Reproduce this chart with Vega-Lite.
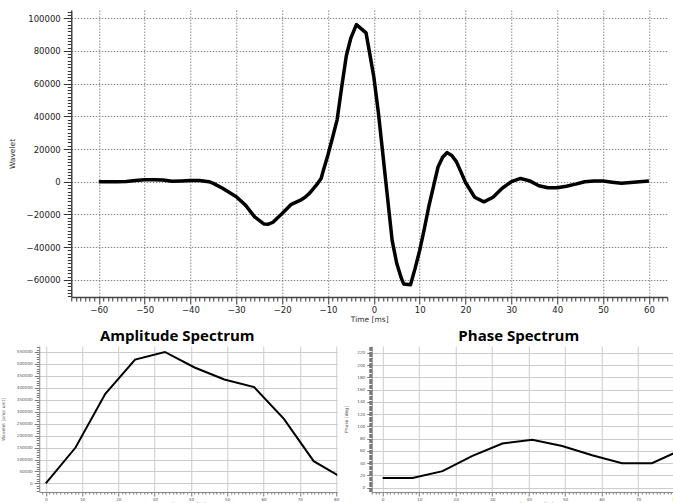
{
  "$schema": "https://vega.github.io/schema/vega-lite/v6.json",
  "padding": {"left": 0, "top": 7, "right": 0, "bottom": 0},
  "background": "white",
  "config": {
    "view": {"stroke": null},
    "font": "DejaVu Sans",
    "axis": {"labelOverlap": false, "labelFlush": false, "domainColor": "#444", "tickColor": "#333", "labelColor": "#222"}
  },
  "datasets": {
    "wavelet": [
      {"time": -60, "wavelet": 0}, {"time": -58, "wavelet": 0}, {"time": -56, "wavelet": 0}, {"time": -54, "wavelet": 200},
      {"time": -52, "wavelet": 700}, {"time": -50, "wavelet": 1200}, {"time": -48, "wavelet": 1200}, {"time": -46, "wavelet": 1000},
      {"time": -44, "wavelet": 300}, {"time": -42, "wavelet": 500}, {"time": -40, "wavelet": 800}, {"time": -38, "wavelet": 800},
      {"time": -36, "wavelet": 0}, {"time": -35, "wavelet": -1000}, {"time": -33, "wavelet": -4000}, {"time": -30, "wavelet": -9200},
      {"time": -28, "wavelet": -14300}, {"time": -26, "wavelet": -21500}, {"time": -24, "wavelet": -25800}, {"time": -23, "wavelet": -26000},
      {"time": -22, "wavelet": -24800}, {"time": -20, "wavelet": -19500}, {"time": -18, "wavelet": -13800}, {"time": -16, "wavelet": -11300},
      {"time": -15, "wavelet": -9500}, {"time": -14, "wavelet": -7000}, {"time": -12.5, "wavelet": -2000}, {"time": -11.5, "wavelet": 2000},
      {"time": -11, "wavelet": 7000}, {"time": -10, "wavelet": 16500}, {"time": -9, "wavelet": 27000}, {"time": -8, "wavelet": 38000},
      {"time": -7, "wavelet": 58000}, {"time": -6, "wavelet": 77000}, {"time": -5, "wavelet": 88000}, {"time": -3.8, "wavelet": 96100},
      {"time": -1.7, "wavelet": 91000}, {"time": -1, "wavelet": 80000}, {"time": 0, "wavelet": 64000}, {"time": 1, "wavelet": 42000},
      {"time": 2, "wavelet": 16000}, {"time": 3, "wavelet": -10000}, {"time": 4, "wavelet": -36000}, {"time": 5, "wavelet": -50000},
      {"time": 6, "wavelet": -59000}, {"time": 6.5, "wavelet": -62500}, {"time": 8, "wavelet": -63000}, {"time": 9, "wavelet": -53000},
      {"time": 10, "wavelet": -42000}, {"time": 11, "wavelet": -29000}, {"time": 12, "wavelet": -15000}, {"time": 13, "wavelet": -3000},
      {"time": 14, "wavelet": 9000}, {"time": 15, "wavelet": 15000}, {"time": 16, "wavelet": 17800}, {"time": 17, "wavelet": 16000},
      {"time": 18, "wavelet": 12300}, {"time": 19, "wavelet": 6000}, {"time": 20, "wavelet": -500}, {"time": 22, "wavelet": -9500},
      {"time": 24, "wavelet": -12300}, {"time": 26, "wavelet": -9500}, {"time": 28, "wavelet": -4000}, {"time": 30, "wavelet": 0},
      {"time": 32, "wavelet": 2000}, {"time": 34, "wavelet": 500}, {"time": 36, "wavelet": -2500}, {"time": 38, "wavelet": -3700},
      {"time": 40, "wavelet": -3700}, {"time": 42, "wavelet": -2800}, {"time": 44, "wavelet": -1500}, {"time": 46, "wavelet": 0},
      {"time": 48, "wavelet": 500}, {"time": 50, "wavelet": 400}, {"time": 52, "wavelet": -300}, {"time": 54, "wavelet": -1000},
      {"time": 56, "wavelet": -500}, {"time": 58, "wavelet": 0}, {"time": 60, "wavelet": 400}
    ],
    "amp": [
      {"freq": 0, "amplitude": 0}, {"freq": 8.2, "amplitude": 150000}, {"freq": 16.4, "amplitude": 375000},
      {"freq": 24.6, "amplitude": 518000}, {"freq": 32.8, "amplitude": 550000}, {"freq": 41, "amplitude": 485000},
      {"freq": 49.2, "amplitude": 435000}, {"freq": 57.4, "amplitude": 403000}, {"freq": 65.6, "amplitude": 270000},
      {"freq": 73.8, "amplitude": 93000}, {"freq": 82, "amplitude": 20000}
    ],
    "phase": [
      {"freq": 0, "phase": 16}, {"freq": 8.2, "phase": 16}, {"freq": 16.4, "phase": 27},
      {"freq": 24.6, "phase": 52}, {"freq": 32.8, "phase": 72}, {"freq": 41, "phase": 78},
      {"freq": 49.2, "phase": 68}, {"freq": 57.4, "phase": 53}, {"freq": 65.6, "phase": 40},
      {"freq": 73.8, "phase": 40}, {"freq": 82, "phase": 62}
    ]
  },
  "center": true,
  "spacing": 5,
  "vconcat": [
    {
      "width": 596,
      "height": 287,
      "data": {"name": "wavelet"},
      "mark": {"type": "line", "color": "black", "strokeWidth": 3.5, "strokeJoin": "round", "clip": true},
      "encoding": {
        "x": {
          "field": "time", "type": "quantitative",
          "scale": {"domain": [-66, 64], "nice": false, "zero": false},
          "axis": {
            "title": "Time [ms]", "titleFontSize": 7.5, "titleFontWeight": "normal", "titleColor": "#333", "titlePadding": 2,
            "tickCount": 130, "labelFontSize": 8.5, "labelPadding": 1,
            "labelExpr": "datum.value % 10 === 0 ? datum.label : ''",
            "tickSize": {"condition": {"test": "datum.value % 10 === 0", "value": 7}, "value": 4},
            "grid": true, "gridDash": [1.5, 1.5], "gridColor": "#888",
            "gridOpacity": {"condition": {"test": "datum.value % 10 === 0", "value": 1}, "value": 0},
            "domainWidth": 1.5
          }
        },
        "y": {
          "field": "wavelet", "type": "quantitative",
          "scale": {"domain": [-70500, 105000], "nice": false, "zero": false},
          "axis": {
            "title": "Wavelet", "titleFontSize": 7.5, "titleFontWeight": "normal", "titleColor": "#333", "titlePadding": 10,
            "tickCount": 88, "format": "d", "labelFontSize": 8.5, "labelPadding": 3,
            "labelExpr": "datum.value % 20000 === 0 ? datum.label : ''",
            "tickSize": {"condition": {"test": "datum.value % 20000 === 0", "value": 8}, "value": 4},
            "grid": true, "gridDash": [1.5, 1.5], "gridColor": "#888",
            "gridOpacity": {"condition": {"test": "datum.value % 20000 === 0", "value": 1}, "value": 0},
            "domainWidth": 1.5
          }
        }
      }
    },
    {
      "spacing": 4.5,
      "hconcat": [
        {
          "width": 298,
          "height": 146,
          "title": {"text": "Amplitude Spectrum", "font": "Open Sans", "fontSize": 15, "fontWeight": "bold", "color": "black", "offset": 1, "dx": -11},
          "data": {"name": "amp"},
          "mark": {"type": "line", "color": "black", "strokeWidth": 2, "clip": true},
          "encoding": {
            "x": {
              "field": "freq", "type": "quantitative",
              "scale": {"domain": [-1.8, 80.3], "nice": false, "zero": false},
              "axis": {
                "title": "Frequency [Hz]", "titleFontSize": 4.5, "titleFontWeight": "normal", "titleColor": "#555", "titlePadding": 0,
                "tickCount": 82, "labelFontSize": 4.2, "labelColor": "#555", "labelPadding": 1,
                "labelExpr": "datum.value % 10 === 0 ? datum.label : ''",
                "tickSize": {"condition": {"test": "datum.value % 10 === 0", "value": 4}, "value": 2},
                "grid": true, "gridColor": "#ccc",
                "gridOpacity": {"condition": {"test": "datum.value % 10 === 0", "value": 1}, "value": 0},
                "domainColor": "#888", "tickColor": "#777"
              }
            },
            "y": {
              "field": "amplitude", "type": "quantitative",
              "scale": {"domain": [-36000, 575000], "nice": false, "zero": false},
              "axis": {
                "title": "Wavelet [amp unit]", "titleFontSize": 4.5, "titleFontWeight": "normal", "titleColor": "#555", "titlePadding": 10.5,
                "tickCount": 61, "format": "d", "labelFontSize": 4.2, "labelColor": "#555", "labelPadding": 2,
                "labelExpr": "datum.value % 50000 === 0 ? datum.label : ''",
                "tickSize": {"condition": {"test": "datum.value % 50000 === 0", "value": 5}, "value": 3},
                "grid": true, "gridColor": "#ccc",
                "gridOpacity": {"condition": {"test": "datum.value % 50000 === 0", "value": 1}, "value": 0},
                "domainColor": "#888", "tickColor": "#777"
              }
            }
          }
        },
        {
          "width": 328,
          "height": 146,
          "title": {"text": "Phase Spectrum", "font": "Open Sans", "fontSize": 15, "fontWeight": "bold", "color": "black", "offset": 1, "dx": -17},
          "data": {"name": "phase"},
          "mark": {"type": "line", "color": "black", "strokeWidth": 2, "clip": true},
          "encoding": {
            "x": {
              "field": "freq", "type": "quantitative",
              "scale": {"domain": [-3, 86.9], "nice": false, "zero": false},
              "axis": {
                "title": "Frequency [Hz]", "titleFontSize": 4.5, "titleFontWeight": "normal", "titleColor": "#555", "titlePadding": 0,
                "tickCount": 90, "labelFontSize": 4.2, "labelColor": "#555", "labelPadding": 1,
                "labelExpr": "datum.value % 10 === 0 ? datum.label : ''",
                "tickSize": {"condition": {"test": "datum.value % 10 === 0", "value": 4}, "value": 2},
                "grid": true, "gridColor": "#ccc",
                "gridOpacity": {"condition": {"test": "datum.value % 10 === 0", "value": 1}, "value": 0},
                "domainColor": "#888", "tickColor": "#777"
              }
            },
            "y": {
              "field": "phase", "type": "quantitative",
              "scale": {"domain": [-7, 231], "nice": false, "zero": false},
              "axis": {
                "title": "Phase [deg]", "titleFontSize": 4.5, "titleFontWeight": "normal", "titleColor": "#555", "titlePadding": 8,
                "tickCount": 119, "format": "d", "labelFontSize": 4.2, "labelColor": "#555", "labelPadding": 2,
                "labelExpr": "datum.value % 20 === 0 ? datum.label : ''",
                "tickSize": {"condition": {"test": "datum.value % 20 === 0", "value": 5}, "value": 3},
                "grid": true, "gridColor": "#ccc",
                "gridOpacity": {"condition": {"test": "datum.value % 20 === 0", "value": 1}, "value": 0},
                "domainColor": "#888", "tickColor": "#777"
              }
            }
          }
        }
      ]
    }
  ]
}
